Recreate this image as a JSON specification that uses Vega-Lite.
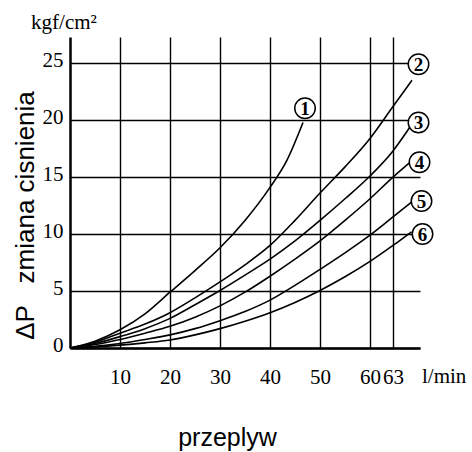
{
  "$schema": "https://vega.github.io/schema/vega-lite/v6.json",
  "width": 350,
  "height": 311,
  "autosize": {"type": "none"},
  "padding": {"left": 70, "top": 37, "right": 52, "bottom": 104},
  "background": "white",
  "config": {"view": {"stroke": null}},
  "datasets": {
    "curves": [
      {"curve": "1", "x": 0, "y": 0}, {"curve": "1", "x": 5, "y": 0.6}, {"curve": "1", "x": 10, "y": 1.6}, {"curve": "1", "x": 15, "y": 3.0}, {"curve": "1", "x": 20, "y": 4.9}, {"curve": "1", "x": 25, "y": 6.8}, {"curve": "1", "x": 30, "y": 8.8}, {"curve": "1", "x": 35, "y": 11.2}, {"curve": "1", "x": 40, "y": 14.1}, {"curve": "1", "x": 43.4, "y": 16.5}, {"curve": "1", "x": 46.6, "y": 19.8},
      {"curve": "2", "x": 0, "y": 0}, {"curve": "2", "x": 5, "y": 0.5}, {"curve": "2", "x": 10, "y": 1.3}, {"curve": "2", "x": 15, "y": 2.1}, {"curve": "2", "x": 20, "y": 3.1}, {"curve": "2", "x": 25, "y": 4.4}, {"curve": "2", "x": 30, "y": 5.8}, {"curve": "2", "x": 35, "y": 7.3}, {"curve": "2", "x": 40, "y": 9.0}, {"curve": "2", "x": 45, "y": 11.2}, {"curve": "2", "x": 50, "y": 13.6}, {"curve": "2", "x": 55, "y": 15.9}, {"curve": "2", "x": 60, "y": 18.4}, {"curve": "2", "x": 64.6, "y": 21.2}, {"curve": "2", "x": 68.4, "y": 23.5},
      {"curve": "3", "x": 0, "y": 0}, {"curve": "3", "x": 5, "y": 0.4}, {"curve": "3", "x": 10, "y": 1.0}, {"curve": "3", "x": 15, "y": 1.7}, {"curve": "3", "x": 20, "y": 2.6}, {"curve": "3", "x": 25, "y": 3.8}, {"curve": "3", "x": 30, "y": 5.05}, {"curve": "3", "x": 35, "y": 6.4}, {"curve": "3", "x": 40, "y": 7.8}, {"curve": "3", "x": 45, "y": 9.4}, {"curve": "3", "x": 50, "y": 11.2}, {"curve": "3", "x": 55, "y": 13.1}, {"curve": "3", "x": 60, "y": 15.1}, {"curve": "3", "x": 64.6, "y": 17.3}, {"curve": "3", "x": 68, "y": 19.4},
      {"curve": "4", "x": 0, "y": 0}, {"curve": "4", "x": 5, "y": 0.3}, {"curve": "4", "x": 10, "y": 0.75}, {"curve": "4", "x": 15, "y": 1.3}, {"curve": "4", "x": 20, "y": 1.9}, {"curve": "4", "x": 25, "y": 2.7}, {"curve": "4", "x": 30, "y": 3.7}, {"curve": "4", "x": 35, "y": 4.9}, {"curve": "4", "x": 40, "y": 6.3}, {"curve": "4", "x": 45, "y": 7.8}, {"curve": "4", "x": 50, "y": 9.4}, {"curve": "4", "x": 55, "y": 11.2}, {"curve": "4", "x": 60, "y": 13.1}, {"curve": "4", "x": 64.6, "y": 15.0}, {"curve": "4", "x": 68.3, "y": 16.4},
      {"curve": "5", "x": 0, "y": 0}, {"curve": "5", "x": 5, "y": 0.15}, {"curve": "5", "x": 10, "y": 0.4}, {"curve": "5", "x": 15, "y": 0.75}, {"curve": "5", "x": 20, "y": 1.15}, {"curve": "5", "x": 25, "y": 1.7}, {"curve": "5", "x": 30, "y": 2.4}, {"curve": "5", "x": 35, "y": 3.2}, {"curve": "5", "x": 40, "y": 4.2}, {"curve": "5", "x": 45, "y": 5.5}, {"curve": "5", "x": 50, "y": 6.9}, {"curve": "5", "x": 55, "y": 8.35}, {"curve": "5", "x": 60, "y": 9.9}, {"curve": "5", "x": 64.6, "y": 11.5}, {"curve": "5", "x": 68.3, "y": 12.8},
      {"curve": "6", "x": 0, "y": 0}, {"curve": "6", "x": 5, "y": 0.1}, {"curve": "6", "x": 10, "y": 0.25}, {"curve": "6", "x": 15, "y": 0.45}, {"curve": "6", "x": 20, "y": 0.7}, {"curve": "6", "x": 25, "y": 1.15}, {"curve": "6", "x": 30, "y": 1.7}, {"curve": "6", "x": 35, "y": 2.35}, {"curve": "6", "x": 40, "y": 3.1}, {"curve": "6", "x": 45, "y": 4.0}, {"curve": "6", "x": 50, "y": 5.05}, {"curve": "6", "x": 55, "y": 6.25}, {"curve": "6", "x": 60, "y": 7.6}, {"curve": "6", "x": 64.6, "y": 9.0}, {"curve": "6", "x": 68.3, "y": 10.2}
    ],
    "labels": [
      {"curve": "1", "x": 47, "y": 21.05},
      {"curve": "2", "x": 69.7, "y": 24.9},
      {"curve": "3", "x": 69.7, "y": 19.8},
      {"curve": "4", "x": 69.9, "y": 16.3},
      {"curve": "5", "x": 70.3, "y": 12.9},
      {"curve": "6", "x": 70.5, "y": 10.0}
    ],
    "unitY": [{"x": 0, "y": 27.3, "t": "kgf/cm²"}],
    "unitX": [{"x": 70, "y": 0, "t": "l/min"}]
  },
  "layer": [
    {
      "data": {"name": "curves"},
      "mark": {"type": "line", "interpolate": "monotone", "color": "black", "strokeWidth": 1.6},
      "encoding": {
        "x": {
          "field": "x", "type": "quantitative",
          "scale": {"domain": [0, 70], "nice": false},
          "axis": {
            "values": [10, 20, 30, 40, 50, 60, 64.6],
            "labelExpr": "datum.value > 62 ? '63' : datum.label",
            "title": "przeplyw",
            "titleX": 157, "titleY": 97, "titleAlign": "center", "titleBaseline": "alphabetic",
            "titleFont": "Liberation Sans", "titleFontSize": 25, "titleFontWeight": "normal", "titleColor": "black",
            "labelFont": "Liberation Serif", "labelFontSize": 21, "labelColor": "black",
            "labelBaseline": "alphabetic", "labelPadding": 35, "labelOverlap": false, "labelFlush": false,
            "ticks": false, "tickSize": 0,
            "domainColor": "black", "domainWidth": 2.5,
            "grid": true, "gridColor": "black", "gridWidth": 1.4, "gridOpacity": 1
          }
        },
        "y": {
          "field": "y", "type": "quantitative",
          "scale": {"domain": [0, 27.3], "nice": false},
          "axis": {
            "values": [0, 5, 10, 15, 20, 25],
            "title": "ΔP\u00a0\u00a0\u00a0zmiana cisnienia",
            "titleX": -37, "titleY": 178, "titleAngle": 270, "titleAlign": "center", "titleBaseline": "alphabetic",
            "titleFont": "Liberation Sans", "titleFontSize": 26, "titleFontWeight": "normal", "titleColor": "black",
            "labelFont": "Liberation Serif", "labelFontSize": 21, "labelColor": "black",
            "labelPadding": 7, "labelOffset": -3, "labelOverlap": false, "labelFlush": false,
            "ticks": false, "tickSize": 0,
            "domainColor": "black", "domainWidth": 2.5,
            "grid": true, "gridColor": "black", "gridWidth": 1.4, "gridOpacity": 1
          }
        },
        "detail": {"field": "curve", "type": "nominal"}
      }
    },
    {
      "data": {"name": "labels"},
      "mark": {"type": "point", "shape": "circle", "filled": true, "fill": "white", "stroke": "black", "strokeWidth": 1.5, "size": 420, "opacity": 1},
      "encoding": {
        "x": {"field": "x", "type": "quantitative"},
        "y": {"field": "y", "type": "quantitative"}
      }
    },
    {
      "data": {"name": "labels"},
      "mark": {"type": "text", "font": "Liberation Serif", "fontWeight": "bold", "fontSize": 19, "color": "black", "baseline": "middle", "align": "center", "dy": 1},
      "encoding": {
        "x": {"field": "x", "type": "quantitative"},
        "y": {"field": "y", "type": "quantitative"},
        "text": {"field": "curve"}
      }
    },
    {
      "data": {"name": "unitY"},
      "mark": {"type": "text", "font": "Liberation Serif", "fontSize": 21, "color": "black", "baseline": "alphabetic", "align": "center", "dx": -6, "dy": -8},
      "encoding": {
        "x": {"field": "x", "type": "quantitative"},
        "y": {"field": "y", "type": "quantitative"},
        "text": {"field": "t"}
      }
    },
    {
      "data": {"name": "unitX"},
      "mark": {"type": "text", "font": "Liberation Serif", "fontSize": 21, "color": "black", "baseline": "alphabetic", "align": "left", "dx": 2, "dy": 35},
      "encoding": {
        "x": {"field": "x", "type": "quantitative"},
        "y": {"field": "y", "type": "quantitative"},
        "text": {"field": "t"}
      }
    }
  ]
}
